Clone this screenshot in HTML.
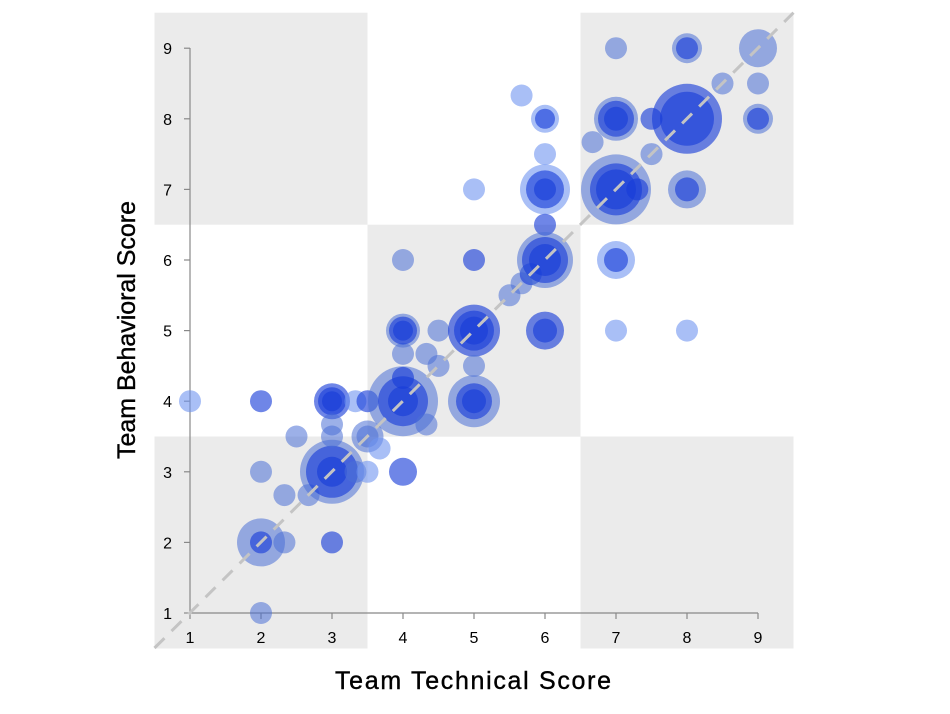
<!DOCTYPE html>
<html><head><meta charset="utf-8"><style>
body{margin:0;background:#fff;}
svg{display:block;font-family:"Liberation Sans",sans-serif;}
</style></head><body>
<svg id="s" width="950" height="714" xmlns="http://www.w3.org/2000/svg">
<rect x="154.5" y="12.7" width="213" height="212" fill="#ebebeb"/>
<rect x="580.5" y="12.7" width="213" height="212" fill="#ebebeb"/>
<rect x="367.5" y="224.7" width="213" height="212" fill="#ebebeb"/>
<rect x="154.5" y="436.5" width="213" height="212" fill="#ebebeb"/>
<rect x="580.5" y="436.5" width="213" height="212" fill="#ebebeb"/>
<g id="axes" stroke="#888" stroke-width="1.2"></g>
<g id="bub"></g>
<line x1="154.5" y1="648" x2="793.5" y2="12.7" stroke="#c4c4c4" stroke-width="3" stroke-dasharray="14,10"/>
<g id="lab" font-size="16" fill="#000"></g>
<text x="473" y="689" font-size="25" text-anchor="middle" fill="#000" stroke="#000" stroke-width="0.4" font-family="Liberation Sans Narrow, Liberation Sans, sans-serif" textLength="276">Team Technical Score</text>
<text transform="translate(135,330) rotate(-90)" font-size="25" text-anchor="middle" fill="#000" stroke="#000" stroke-width="0.4" textLength="258">Team Behavioral Score</text>
</svg>
<script>
var X=v=>190+(v-1)*71, Y=v=>613-(v-1)*70.6;
var ns="http://www.w3.org/2000/svg";
function el(p,t,a){var e=document.createElementNS(ns,t);for(var k in a)e.setAttribute(k,a[k]);p.appendChild(e);return e;}
var ax=document.getElementById('axes'),lab=document.getElementById('lab');
el(ax,'line',{x1:190,y1:48,x2:190,y2:613});
el(ax,'line',{x1:190,y1:613,x2:758,y2:613});
for(var i=1;i<=9;i++){
 el(ax,'line',{x1:X(i),y1:613,x2:X(i),y2:619});
 el(ax,'line',{x1:184,y1:Y(i),x2:190,y2:Y(i)});
 var t=el(lab,'text',{x:X(i),y:643,'text-anchor':'middle'});t.textContent=i;
 t=el(lab,'text',{x:172,y:Y(i)+6,'text-anchor':'end'});t.textContent=i;
}
var C={L:['#4a6fd6',0.55],V:['#173cd8',0.62],l:['#6f95f0',0.6]};
var d=[[1,4,11,'l'],[2,4,11,'V'],[2,3,11,'L'],[2,2,24,'L'],[2,2,11,'V'],[2,1,11,'L'],[2.33,2.67,11,'L'],[2.33,2,11,'L'],[2.5,3.5,11,'L'],[2.67,2.67,11,'L'],
[3,3,32,'L'],[3,3,26,'V'],[3,3,15,'V'],[3,2,11,'V'],[3,4,18,'V'],[3,4,14,'V'],[3,4,10,'V'],[3,3.67,11,'L'],[3,3.5,11,'L'],[3.33,4,11,'l'],[3.5,4,11,'V'],
[3.5,3.5,16,'L'],[3.5,3.5,11,'L'],[3.67,3.33,11,'l'],[3.33,3,11,'L'],[3.5,3,11,'l'],[4,3,14,'V'],[4,4,35,'L'],[4,4,25,'V'],[4,4,15,'V'],[4,4.33,11,'V'],
[4.33,3.67,11,'L'],[4,4.67,11,'L'],[4,5,17,'L'],[4,5,14,'V'],[4,5,10,'V'],[4.33,4.67,11,'L'],[4.5,4.5,11,'L'],[4.5,5,11,'L'],[4,6,11,'L'],[5,6,11,'V'],[5,7,11,'l'],
[5,5,26,'V'],[5,5,20,'V'],[5,5,14,'V'],[5,4,26,'L'],[5,4,18,'V'],[5,4,12,'V'],[5,4.5,11,'L'],[5.5,5.5,11,'L'],[5.67,5.67,11,'L'],[5.8,5.8,11,'V'],[5.67,8.33,11,'l'],
[6,8,14,'l'],[6,8,10,'V'],[6,7.5,11,'l'],[6,7,25,'l'],[6,7,19,'V'],[6,7,11,'V'],[6,6.5,11,'V'],[6,6,28,'L'],[6,6,23,'V'],[6,6,16,'V'],[6,5,19,'V'],[6,5,12,'V'],
[6.67,7.67,11,'L'],[7,9,11,'L'],[7,8,22,'L'],[7,8,18,'V'],[7,8,12,'V'],[7,7,35,'L'],[7,7,26,'V'],[7,7,20,'V'],[7.3,7,11,'V'],[7,6,19,'l'],[7,6,12,'V'],[7,5,11,'l'],
[7.5,7.5,11,'L'],[7.5,8,11,'V'],[8,9,15,'L'],[8,9,11,'V'],[8,8,35,'V'],[8,8,27,'V'],[8,7,19,'L'],[8,7,12,'V'],[8,5,11,'l'],[8.5,8.5,11,'L'],[9,9,19,'L'],[9,8.5,11,'L'],[9,8,15,'L'],[9,8,11,'V']];
var b=document.getElementById('bub');
d.forEach(p=>el(b,'circle',{cx:X(p[0]),cy:Y(p[1]),r:p[2],fill:C[p[3]][0],'fill-opacity':C[p[3]][1]}));
</script>
</body></html>
